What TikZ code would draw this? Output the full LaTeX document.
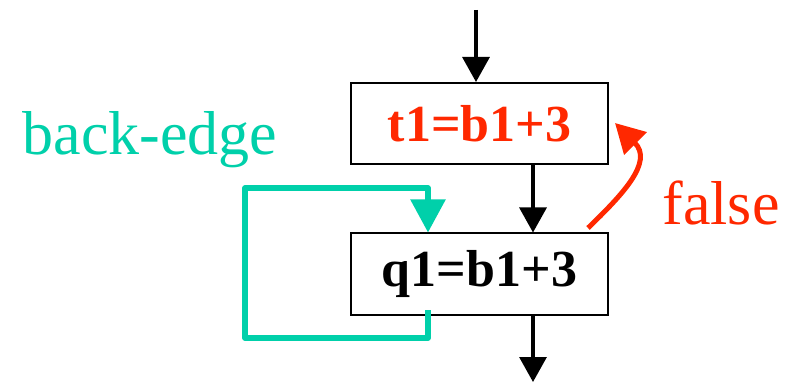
\documentclass[tikz,border=0pt]{standalone}
\usepackage{fontspec}
\setmainfont{Liberation Serif}
\usetikzlibrary{arrows.meta,calc}
\definecolor{tealc}{RGB}{0,208,170}
\definecolor{redc}{RGB}{255,40,0}
\begin{document}
\begin{tikzpicture}[x=1pt,y=-1pt,
  blk/.style={draw=black,line width=2pt,minimum width=257pt,minimum height=81pt,inner sep=0pt,font=\fontsize{52}{60}\selectfont\bfseries},
  flow/.style={line width=3.2pt,-{Triangle[length=25pt,width=27pt]}},
  loopc/.style={draw=tealc,line width=5.5pt,line join=round,-{Triangle[length=33pt,width=34pt]}},
  falsec/.style={draw=redc,line width=5pt,-{Triangle[length=29pt,width=31pt]}},
  lbl/.style={font=\fontsize{62}{70}\selectfont,anchor=base}]
\useasboundingbox (0,0) rectangle (787,382);
\node[blk,text=redc] (b1) at (479.5,123.5) {t1=b1+3};
\node[blk] (b2) at (479.5,274) {q1=b1+3};
\coordinate (top) at (476,10);
\coordinate (bot) at (533,382);
\draw[flow] (top) -- (top |- b1.north);
\draw[flow] (b1.south -| bot) -- (b2.north -| bot);
\draw[flow] (b2.south -| bot) -- (bot);
\coordinate (ls) at (428,310);
\coordinate (lb) at (245,338);
\coordinate (lt) at (245,188);
\draw[loopc] (ls) -- (ls |- lb) -- (lb) -- (lt) -- (lt -| ls) -- (b2.north -| ls);
\coordinate (fs) at (588,228);
\coordinate (ft) at (615,123);
\draw[falsec] (fs) .. controls (622,195) and (654,162) .. (ft);
\node[lbl,text=tealc] (be) at (150,155) {back-edge};
\node[lbl,text=redc] (fl) at (721,225) {false};
\end{tikzpicture}
\end{document}
